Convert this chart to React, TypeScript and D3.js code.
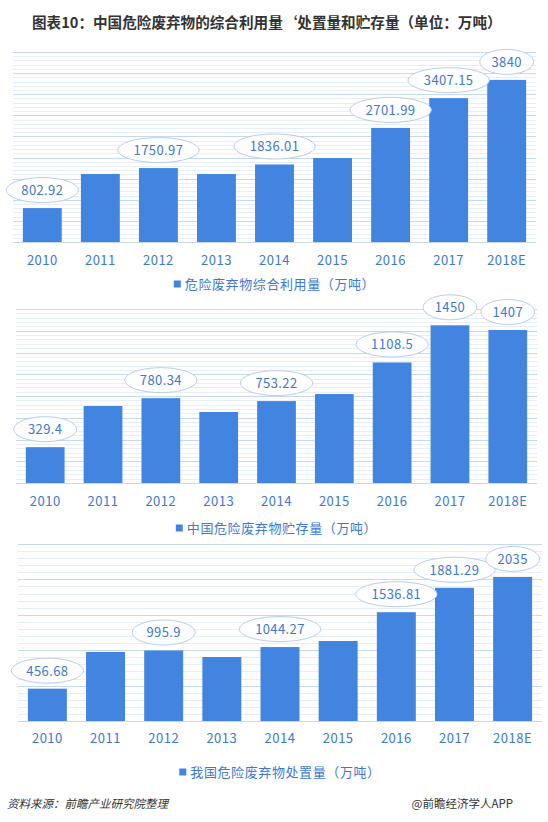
import React from "react";
import * as d3 from "d3";

const years = ["2010", "2011", "2012", "2013", "2014", "2015", "2016", "2017", "2018E"];
const utilization = [802.92, 1611, 1750.97, 1611, 1836.01, 1989, 2701.99, 3407.15, 3840];
const storage = [329.4, 708, 780.34, 653, 753.22, 818, 1108.5, 1450, 1407];
const disposal = [456.68, 975, 995.9, 904, 1044.27, 1130, 1536.81, 1881.29, 2035];
const labeled = [true, false, true, false, true, false, true, true, true];
const legend1 = "危险废弃物综合利用量（万吨）";
const legend2 = "中国危险废弃物贮存量（万吨）";
const legend3 = "我国危险废弃物处置量（万吨）";
const title = "图表10：中国危险废弃物的综合利用量‘处置量和贮存量（单位：万吨）";
const source = "资料来源：前瞻产业研究院整理";
const brand = "@前瞻经济学人APP";

const BAR = "#4285e0";
const TXT = "#3d78d2";
const FONT = "'Noto Sans CJK SC', 'Noto Sans', sans-serif";

type Cfg = {
  values: number[];
  legend: string;
  x0: number;
  x1: number;
  top: number;
  base: number;
  max: number;
  major: number;
  minor: number;
  xLabelY: number;
  legendY: number;
};

const charts: Cfg[] = [
  { values: utilization, legend: legend1, x0: 13, x1: 536, top: 52, base: 242, max: 4500, major: 500, minor: 100, xLabelY: 265, legendY: 284 },
  { values: storage, legend: legend2, x0: 16, x1: 537, top: 309, base: 483, max: 1600, major: 200, minor: 40, xLabelY: 506, legendY: 528 },
  { values: disposal, legend: legend3, x0: 18, x1: 542, top: 544, base: 721, max: 2500, major: 500, minor: 100, xLabelY: 743, legendY: 772 },
];

function fmt(v: number) {
  return String(v);
}

function Chart({ c }: { c: Cfg }) {
  const x = d3.scaleBand<string>().domain(years).range([c.x0, c.x1]).paddingInner(0.33).paddingOuter(0.17);
  const y = d3.scaleLinear().domain([0, c.max]).range([c.base, c.top]);
  const minorTicks = d3.range(0, c.max + c.minor / 2, c.minor);
  const legendW = c.legend.length * 13.6;
  const cx = (c.x0 + c.x1) / 2;
  const lx = cx - (legendW + 11) / 2;
  return (
    <g>
      {minorTicks.map((t, i) => {
        const isMajor = Math.abs(t / c.major - Math.round(t / c.major)) < 1e-6;
        return (
          <line
            key={i}
            x1={c.x0}
            x2={c.x1}
            y1={Math.round(y(t)) + 0.5}
            y2={Math.round(y(t)) + 0.5}
            stroke={isMajor ? "#c6d8f2" : "#e6eef9"}
            strokeWidth={1}
          />
        );
      })}
      {c.values.map((v, i) => (
        <rect key={i} x={x(years[i])} y={y(v)} width={x.bandwidth()} height={c.base - y(v)} fill={BAR} />
      ))}
      {c.values.map((v, i) => {
        if (!labeled[i]) return null;
        const s = fmt(v);
        const bx = (x(years[i]) as number) + x.bandwidth() / 2;
        const by = y(v) - 18;
        return (
          <g key={"l" + i}>
            <ellipse cx={bx} cy={by} rx={s.length * 4.6 + 8.5} ry={12.5} fill="#ffffff" stroke="#b9cdef" strokeWidth={1} />
            <text x={bx} y={by + 5} textAnchor="middle" fontSize={13} letterSpacing={0.4} fill={TXT} fontFamily={FONT}>
              {s}
            </text>
          </g>
        );
      })}
      {years.map((yr) => (
        <text
          key={yr}
          x={(x(yr) as number) + x.bandwidth() / 2}
          y={c.xLabelY}
          textAnchor="middle"
          fontSize={13}
          letterSpacing={0.5}
          fill={TXT}
          fontFamily={FONT}
        >
          {yr}
        </text>
      ))}
      <rect x={lx} y={c.legendY - 3.5} width={7} height={7} fill={BAR} />
      <text x={lx + 11} y={c.legendY + 4.5} fontSize={13} letterSpacing={0.6} fill={TXT} fontFamily={FONT}>
        {c.legend}
      </text>
    </g>
  );
}

export default function App() {
  return (
    <svg
      width={548}
      height={822}
      style={{ position: "absolute", left: 0, top: 0, background: "#ffffff" }}
      xmlns="http://www.w3.org/2000/svg"
    >
      <rect x={0} y={0} width={548} height={822} fill="#ffffff" />
      <text x={32} y={28} fontSize={14.6} fontWeight="bold" fill="#333333" fontFamily={FONT}>
        {title}
      </text>
      {charts.map((c, i) => (
        <Chart key={i} c={c} />
      ))}
      <text x={7} y={808} fontSize={11.5} fontStyle="italic" fill="#333333" fontFamily={FONT}>
        {source}
      </text>
      <text x={513} y={808} fontSize={11.5} textAnchor="end" fill="#333333" fontFamily={FONT}>
        {brand}
      </text>
    </svg>
  );
}
